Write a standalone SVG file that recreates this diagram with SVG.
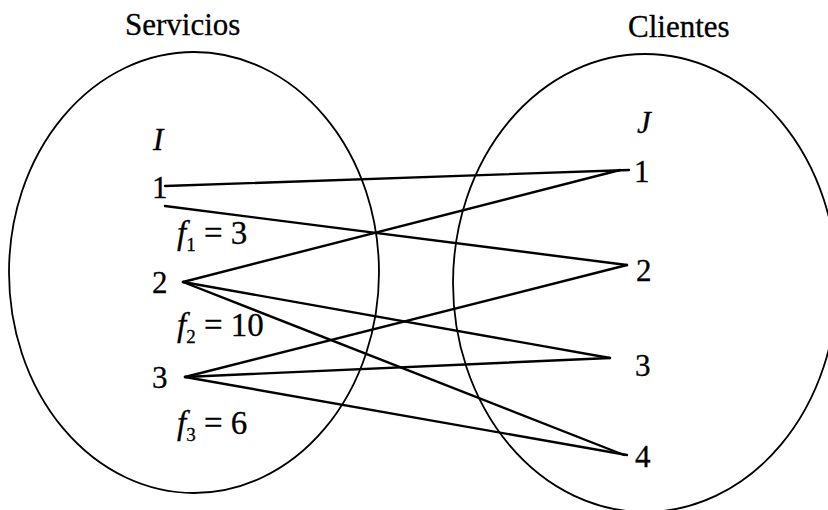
<svg xmlns="http://www.w3.org/2000/svg" width="828" height="510" viewBox="0 0 828 510">
<style>
.set{fill:none;stroke:#000;stroke-width:1.8}
.ln{stroke:#000;stroke-width:2.4;stroke-linecap:round}
.t{font-family:'Liberation Serif','Times New Roman','DejaVu Serif',serif;font-size:31px;fill:#000;stroke:#000;stroke-width:0.3}
.it{font-style:italic}
.f{font-size:33px}
.sub{font-size:19px}
</style>
<rect width="828" height="510" fill="#fff"/>
<g class="t" font-family="Liberation Serif, Times New Roman, DejaVu Serif, serif">
<g id="servicios">
<ellipse class="set" cx="194" cy="272.5" rx="185" ry="220.5"/>
<text x="125" y="35">Servicios</text>
<text class="it" x="153" y="150">I</text>
</g>
<g id="clientes">
<ellipse class="set" cx="645" cy="283" rx="192" ry="229"/>
<text x="628" y="37">Clientes</text>
<text class="it" x="637" y="133">J</text>
</g>
<g id="i1"><text x="152" y="198">1</text><text class="f" x="177" y="244"><tspan class="it">f</tspan><tspan class="sub" dy="7">1</tspan><tspan dy="-7"> = 3</tspan></text></g>
<g id="i2"><text x="152" y="293">2</text><text class="f" x="177" y="336"><tspan class="it">f</tspan><tspan class="sub" dy="7">2</tspan><tspan dy="-7"> = 10</tspan></text></g>
<g id="i3"><text x="152" y="388">3</text><text class="f" x="177" y="434"><tspan class="it">f</tspan><tspan class="sub" dy="7">3</tspan><tspan dy="-7"> = 6</tspan></text></g>
<g id="j1"><text x="634" y="182">1</text></g>
<g id="j2"><text x="636" y="281">2</text></g>
<g id="j3"><text x="635" y="376">3</text></g>
<g id="j4"><text x="635" y="467">4</text></g>
</g>
<g id="connectors">
<line class="ln" x1="165" y1="186" x2="629" y2="170"/>
<line class="ln" x1="165" y1="206" x2="627" y2="265"/>
<line class="ln" x1="183" y1="282" x2="620" y2="170"/>
<line class="ln" x1="183" y1="282" x2="610" y2="358"/>
<line class="ln" x1="183" y1="282" x2="624" y2="455"/>
<line class="ln" x1="185" y1="377" x2="627" y2="265"/>
<line class="ln" x1="185" y1="377" x2="610" y2="358"/>
<line class="ln" x1="185" y1="377" x2="627" y2="455"/>
</g>
</svg>
